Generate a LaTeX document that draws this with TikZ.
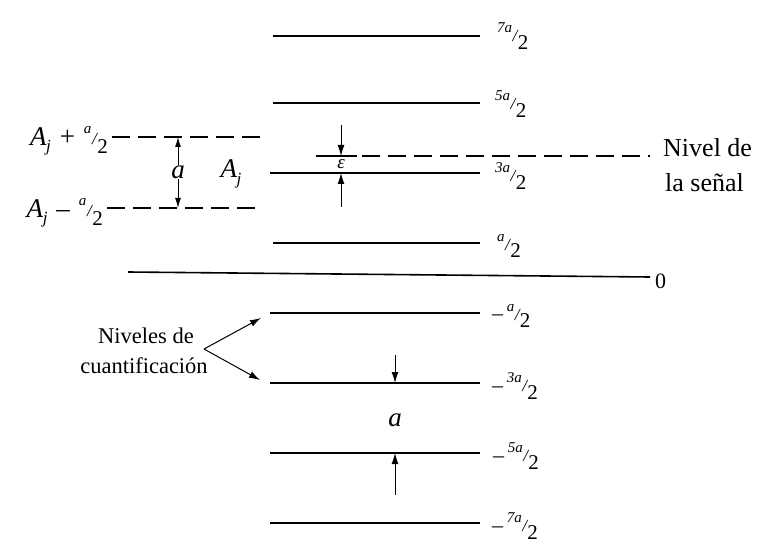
\documentclass[tikz,border=0pt]{standalone}
\usepackage{fontspec}
\setmainfont{Liberation Serif}
\usetikzlibrary{arrows.meta}
\newcommand{\hf}[1]{\raisebox{0.42em}{\fontsize{15}{15}\selectfont\itshape #1}\kern0.02em\raisebox{0.02em}{\fontsize{17}{17}\selectfont\itshape /}\kern0.02em\raisebox{-0.32em}{\fontsize{21}{21}\selectfont 2}}
\newcommand{\Aj}{\textit{A}\kern-0.02em\raisebox{-0.25em}{\fontsize{17}{17}\selectfont\itshape j}}
\begin{document}
\begin{tikzpicture}[x=1pt,y=-1pt,
  level/.style={line width=2.2pt},
  dline/.style={line width=1.2pt,dash pattern=on 18pt off 8pt},
  lbl/.style={anchor=west,inner sep=0pt,font=\fontsize{22}{24}\selectfont},
  txt/.style={inner sep=0pt,font=\fontsize{27}{33}\selectfont},
  big/.style={inner sep=0pt,anchor=base west,font=\fontsize{26}{30}\selectfont},
  mid/.style={inner sep=0pt,anchor=base,font=\fontsize{22.5}{26}\selectfont},
  arr/.style={line width=1pt,-{Latex[length=10pt,width=6pt]}},
  sarr/.style={line width=1pt,-{Latex[length=11pt,width=7pt]}}]
\useasboundingbox (0,0) rectangle (759,545);
% quantization levels
\draw[level] (273,36) -- (480,36) coordinate (l7);
\draw[level] (273,103) -- (480,103) coordinate (l5);
\draw[level] (270,173) -- (480,173) coordinate (l3);
\draw[level] (273,243) -- (480,243) coordinate (l1);
\draw[line width=1.6pt] (128,272) -- (650,277);
\draw[level] (270,313) coordinate (m1s) -- (480,313) coordinate (m1);
\draw[level] (270,383) coordinate (m3s) -- (480,383) coordinate (m3);
\draw[level] (270,453) -- (480,453) coordinate (m5);
\draw[level] (270,523) -- (480,523) coordinate (m7);
% level labels
\node[lbl] (t7) at (497,36) {\hf{7a}};
\node[lbl] (t5) at (495,104) {\hf{5a}};
\node[lbl] (t3) at (495,176) {\hf{3a}};
\node[lbl] (t1) at (497,246) {\hf{a}};
\node[lbl] (t0) at (655,281) {0};
\node[lbl] (tm1) at (492,316) {–\,\hf{a}};
\node[lbl] (tm3) at (492,386) {–\,\hf{3a}};
\node[lbl] (tm5) at (493,456) {–\,\hf{5a}};
\node[lbl] (tm7) at (492,526) {–\,\hf{7a}};
% A_j band
\draw[dline] (112,137) -- (265,137);
\draw[dline] (107,208) -- (262,208);
\node[txt,anchor=east] (ap) at (108,141) {\Aj\kern9pt+\kern9pt\hf{a}};
\node[txt,anchor=east] (am) at (103,213) {\Aj\kern9pt–\kern9pt\hf{a}};
\coordinate (atop) at (178,137);
\coordinate (abot) at (178,208);
\node[txt] (alab) at (178,172) {\textit{a}};
\draw[arr] (alab.north) -- (atop);
\draw[arr] (alab.south) -- (abot);
\node[txt] (ajl) at (231,174) {\Aj};
% signal level
\draw[line width=1.2pt] (316,156) -- (357,156);
\draw[dline] (362,156) -- (650,156);
\node[big] (nivel1) at (663,157) {Nivel de};
\node[big] (nivel2) at (665,192) {la señal};
\coordinate (sig) at (341,156);
\coordinate (eup) at (341,125);
\coordinate (edn) at (341,207);
\coordinate (e3) at (341,173);
\node[inner sep=0pt,font=\fontsize{19}{19}\selectfont] (eps) at (341,164) {\textit{ε}};
\draw[sarr] (eup) -- (sig);
\draw[sarr] (edn) -- (e3);
% quantization levels label
\node[mid] (nq1) at (146,343) {Niveles de};
\node[mid] (nq2) at (144,373) {cuantificación};
\coordinate (nqs) at (204,349);
\draw[sarr] (nqs) -- (261,318);
\draw[sarr] (nqs) -- (260,380);
% bottom a
\coordinate (bt) at (395,383);
\coordinate (bb) at (395,453);
\draw[sarr] (395,355) -- (bt);
\draw[sarr] (395,495) -- (bb);
\node[txt] (ba) at (395,420) {\textit{a}};
\end{tikzpicture}
\end{document}
